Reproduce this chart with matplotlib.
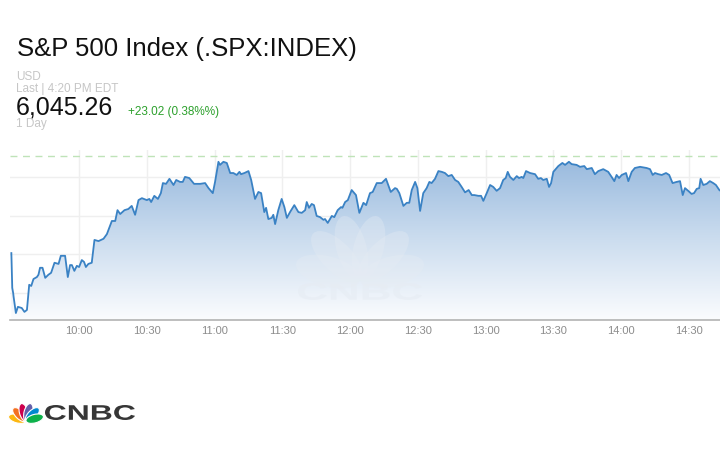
import numpy as np
import matplotlib
matplotlib.use("Agg")
import matplotlib.pyplot as plt
from matplotlib.colors import LinearSegmentedColormap
from matplotlib.patches import Ellipse, PathPatch
from matplotlib.textpath import TextPath
from matplotlib.font_manager import FontProperties
from matplotlib.transforms import Affine2D, IdentityTransform

# minutes since the 9:30 open, and the index level
minutes = [
    0, 0.4, 0.8, 1.0, 2.0, 2.9, 4.6, 5.8, 6.9, 7.9, 8.8, 9.8, 11.3, 12.0, 12.7,
    13.8, 15.0, 16.4, 17.6, 19.1, 20.9, 21.9, 23.8, 25.0, 26.0, 26.8, 27.9, 29.0,
    30.0, 31.2, 32.2, 33.0, 34.1, 35.6, 36.8, 38.6, 40.8, 42.3, 44.5, 46.0, 47.0,
    48.2, 50.1,
    51.8, 53.3, 54.8, 56.3, 57.8, 60.0, 61.1, 61.9, 63.3, 64.9, 66.2, 67.1, 68.5,
    70.0, 71.8, 73.0, 74.7, 75.9, 76.9, 78.8, 80.9, 83.6, 85.8, 87.3, 89.2, 90.2,
    91.7, 92.4, 93.9, 95.4, 96.9, 98.3, 99.8, 101.0,
    101.7, 103.2, 105.0, 106.2, 107.9, 109.4, 110.6, 112.0, 112.8, 113.8, 115.3,
    116.0, 116.8, 118.2, 119.7, 120.9, 122.0, 123.4, 125.3, 127.1, 128.6, 130.1,
    130.8, 131.8, 133.0, 134.0, 135.2, 136.7, 138.2, 138.9, 140.1, 141.9, 143.0,
    144.5, 146.0, 146.6, 147.8, 149.0, 150.7, 151.9,
    152.6, 154.1, 155.9, 157.1, 158.8, 160.0, 161.8, 164.0, 165.9, 168.0, 169.9,
    170.7, 171.8, 173.6, 175.1, 176.2, 177.3, 178.8, 179.8, 181.0, 182.4, 183.9,
    185.1, 186.1, 187.6, 189.1, 190.6, 192.0, 193.5, 195.0, 196.5, 197.9, 199.4,
    200.9,
    202.5, 203.9, 205.0, 206.8, 208.0, 209.0, 210.5, 212.0, 213.4, 214.9, 216.4,
    217.8, 218.9, 219.8, 220.8, 222.3, 223.8, 224.8, 226.0, 226.7, 227.9, 229.7,
    231.9, 233.3, 234.5, 235.5, 237.1, 238.1, 239.0, 240.0, 242.2, 244.0, 245.2,
    246.9, 248.1, 250.3, 251.8, 253.7,
    254.8, 257.0, 258.4, 259.9, 262.1, 264.3, 265.8, 267.0, 268.0, 269.1, 270.3,
    272.2, 273.2, 274.7, 276.1, 278.4, 281.3, 282.8, 284.0, 285.0, 286.5, 288.0,
    289.9, 291.3, 292.8, 294.6, 296.1, 297.3, 298.3, 299.7, 301.2, 302.3, 303.5,
    304.6, 305.2, 306.4, 307.9, 309.3, 310.8, 312.0, 313.5, 315.0,
]
prices = [
    6010.3, 6001.3, 6000.0, 5999.0, 5994.8, 5996.4, 5996.1, 5995.1, 5995.6, 6002.1,
    6001.8, 6003.6, 6004.1, 6004.7, 6006.5, 6006.5, 6003.9, 6004.7, 6005.2, 6007.8,
    6007.5, 6009.6, 6009.6, 6004.1, 6007.2, 6007.2, 6005.7, 6007.0, 6006.7, 6008.5,
    6008.0, 6006.7, 6007.5, 6007.8, 6013.7, 6013.4, 6014.0, 6015.2, 6018.6, 6018.6,
    6021.4, 6020.4, 6021.4,
    6021.7, 6022.5, 6020.2, 6024.0, 6024.5, 6024.0, 6024.3, 6023.5, 6025.1, 6024.3,
    6025.8, 6028.4, 6028.2, 6029.5, 6027.9, 6029.2, 6028.7, 6028.7, 6030.0, 6029.7,
    6028.2, 6028.2, 6028.4, 6027.1, 6025.8, 6028.7, 6033.9, 6033.1, 6033.9, 6033.6,
    6031.0, 6031.0, 6030.5, 6031.3,
    6030.7, 6031.0, 6031.5, 6029.2, 6024.3, 6026.1, 6025.8, 6020.9, 6022.0, 6019.1,
    6019.4, 6020.2, 6017.8, 6021.4, 6024.3, 6022.2, 6019.4, 6020.9, 6022.7, 6020.9,
    6020.7, 6021.4, 6023.5, 6022.0, 6023.0, 6022.7, 6019.9, 6019.6, 6018.9, 6019.1,
    6018.1, 6019.9, 6019.6, 6021.4, 6022.2, 6022.0, 6023.5, 6024.0, 6026.6, 6025.8,
    6025.3, 6020.7, 6023.3, 6022.7, 6025.8, 6026.1, 6028.4, 6028.4, 6029.5, 6026.1,
    6027.1, 6026.9, 6025.8, 6022.5, 6023.3, 6023.3, 6026.6, 6028.7, 6027.1, 6021.2,
    6025.8, 6027.1, 6028.7, 6028.4, 6029.5, 6031.5, 6031.3, 6031.0, 6030.2, 6030.5,
    6029.2, 6028.7, 6027.4, 6026.0,
    6026.6, 6025.3, 6025.3, 6025.1, 6025.1, 6023.8, 6025.8, 6027.9, 6027.4, 6026.4,
    6027.1, 6029.2, 6029.7, 6031.3, 6030.0, 6029.2, 6030.2, 6029.7, 6030.0, 6029.7,
    6031.5, 6031.0, 6030.7, 6029.5, 6029.7, 6029.2, 6029.5, 6027.4, 6028.4, 6031.3,
    6032.8, 6033.6, 6033.1, 6033.9, 6033.3, 6033.1, 6032.6, 6032.8,
    6032.0, 6032.3, 6030.7, 6031.5, 6032.0, 6031.3, 6030.0, 6028.9, 6030.5, 6029.7,
    6030.5, 6031.0, 6028.9, 6031.3, 6032.3, 6032.6, 6032.3, 6032.0, 6030.5, 6031.0,
    6030.7, 6030.5, 6031.0, 6030.5, 6028.4, 6028.7, 6028.9, 6025.3, 6027.1, 6026.4,
    6025.6, 6025.8, 6026.9, 6027.1, 6029.5, 6027.9, 6028.2, 6028.9, 6028.4, 6027.9,
    6026.6, 6026.0,
]

tick_minutes = [30, 60, 90, 120, 150, 180, 210, 240, 270, 300]
tick_labels = ["10:00", "10:30", "11:00", "11:30", "12:00", "12:30",
               "13:00", "13:30", "14:00", "14:30"]
grid_prices = [6000, 6010, 6020, 6030]
ref_price = 6035.4

title = "S&P 500 Index (.SPX:INDEX)"
last_price = "6,045.26"
change = "+23.02 (0.38%%)"

W, H = 720, 450
fig = plt.figure(figsize=(W / 100, H / 100), dpi=100)
fig.patch.set_facecolor("white")


def fx(x):
    return x / W


def fy(y):
    return 1 - y / H


# ---- header texts ----
font = "Liberation Sans"
gray = "#c6c6c6"
fig.text(fx(17), fy(56), title, fontsize=18.5, family=font, color="#111111", va="baseline")
fig.text(fx(16), fy(80), "USD", fontsize=8.5, family=font, color=gray, va="baseline")
fig.text(fx(16), fy(92.5), "Last | 4:20 PM EDT", fontsize=8.5, family=font, color=gray, va="baseline")
fig.text(fx(16), fy(114.5), last_price, fontsize=18, family=font, color="#111111", va="baseline")
fig.text(fx(128), fy(115), change, fontsize=8.5, family=font, color="#2ca02c", va="baseline")
fig.text(fx(16), fy(127), "1 Day", fontsize=8.5, family=font, color=gray, va="baseline")

# ---- chart ----
ax = fig.add_axes([fx(10), fy(320), 1 - fx(10), (320 - 150) / H])
x_lo, x_hi = -0.6, 313.8
y_lo, y_hi = 5993.0, 6036.95
ax.set_xlim(x_lo, x_hi)
ax.set_ylim(y_lo, y_hi)

for p in grid_prices:
    ax.axhline(p, color="#efefef", lw=1, zorder=0)
for t in tick_minutes:
    ax.axvline(t, color="#efefef", lw=1, zorder=0)

cmap = LinearSegmentedColormap.from_list("fade", ["#fbfcfe", "#c9dbee", "#93b6dc"])
grad = np.linspace(0, 1, 256).reshape(-1, 1)
im = ax.imshow(grad, extent=[x_lo, x_hi, y_lo, y_hi], origin="lower",
               aspect="auto", cmap=cmap, zorder=1)
poly = ax.fill_between(minutes, prices, y_lo, facecolor="none", edgecolor="none")
im.set_clip_path(poly.get_paths()[0], transform=ax.transData)

ax.axhline(ref_price, color="#bfe3b8", lw=1, ls=(0, (5, 4)), zorder=2)
ax.plot(minutes, prices, color="#3a82c4", lw=1.3, zorder=4)

for s in ["top", "right", "left"]:
    ax.spines[s].set_visible(False)
ax.spines["bottom"].set_color("#b3b3b3")
ax.spines["bottom"].set_linewidth(1.2)
ax.set_yticks([])
ax.set_xticks(tick_minutes, tick_labels)
ax.tick_params(axis="x", length=0, pad=4, labelsize=8, labelcolor="#8c8c8c")
for lab in ax.get_xticklabels():
    lab.set_family(font)


# ---- logos, drawn in pixel space ----
def word_path(word, x0, x1, y_top, y_bot):
    tp = TextPath((0, 0), word, size=10, prop=FontProperties(family=font, weight="bold"))
    ext = tp.get_extents()
    tr = (Affine2D().translate(-ext.x0, -ext.y0)
          .scale((x1 - x0) / ext.width, (y_bot - y_top) / ext.height)
          .translate(x0, H - y_bot))
    return tr.transform_path(tp)


def peacock(target, cx, cy, length, width, colors, edge="white", alpha=1.0, z=1):
    angles = np.linspace(-75, 75, 6)
    for ang, c in zip(angles, colors):
        a = np.radians(ang)
        e = Ellipse((cx + np.sin(a) * length / 2, H - cy + np.cos(a) * length / 2),
                    width, length, angle=-ang, facecolor=c, edgecolor=edge,
                    lw=0.8, alpha=alpha, transform=IdentityTransform(), zorder=z)
        target.add_artist(e)


# watermark inside the chart
wm = "#e6ecf3"
peacock(ax, 360, 280, 66, 30, [wm] * 6, edge="none", alpha=0.35, z=3)
ax.add_artist(PathPatch(word_path("CNBC", 298, 422, 283, 300), facecolor=wm, lw=0,
                        alpha=0.6, transform=IdentityTransform(), zorder=3))

# bottom-left logo
feathers = ["#fcb711", "#f37021", "#cc004c", "#6460aa", "#0089d0", "#0db14b"]
peacock(fig, 26, 421, 18, 8.5, feathers, edge="white")
fig.add_artist(PathPatch(word_path("CNBC", 45, 135, 405, 420), facecolor="#363636",
                         lw=0, transform=IdentityTransform()))

fig.savefig("out.png", dpi=100)
